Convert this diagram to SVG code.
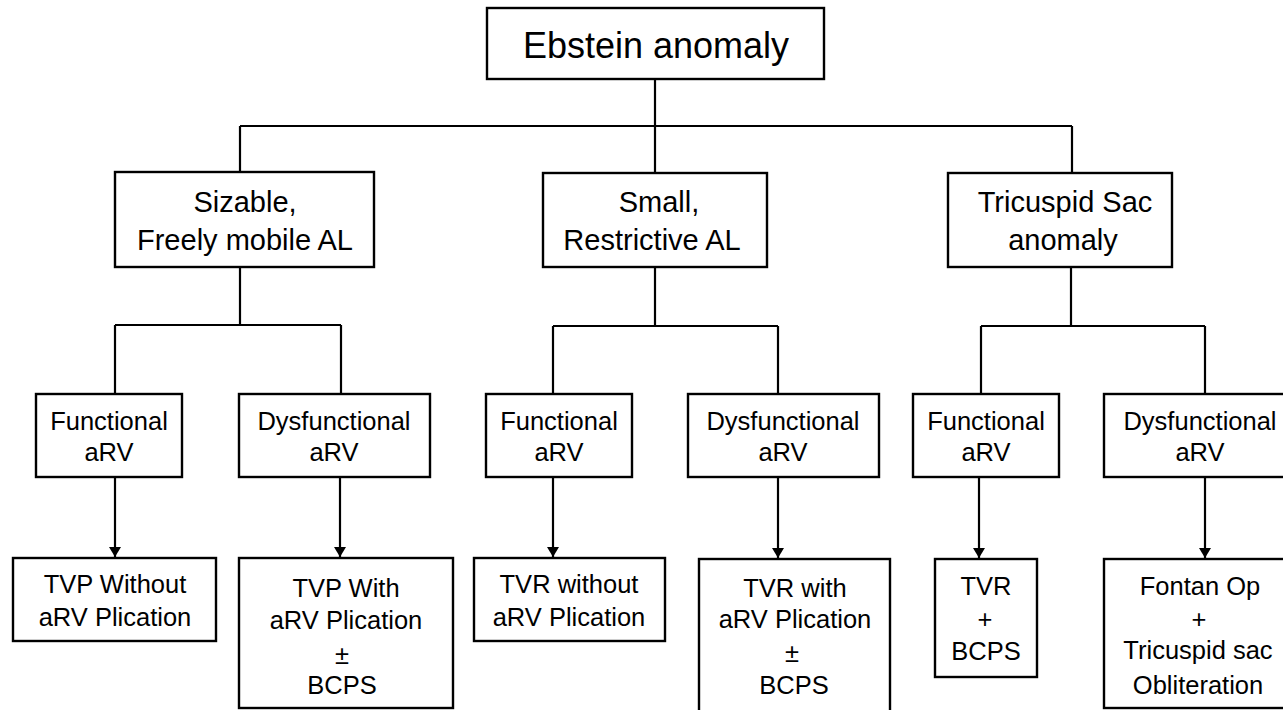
<svg xmlns="http://www.w3.org/2000/svg" width="1283" height="710" viewBox="0 0 1283 710">
<defs>
<marker id="ah" viewBox="0 0 10 12" refX="10" refY="6" markerWidth="12" markerHeight="12" markerUnits="userSpaceOnUse" orient="auto">
<path d="M0,0 L10,6 L0,12 Z" fill="#000"/>
</marker>
<style>
.box{fill:#fff;stroke:#000;stroke-width:2.4}
.ln{fill:none;stroke:#000;stroke-width:2.2}
text{font-family:"Liberation Sans",Arial,Helvetica,sans-serif;fill:#000;text-anchor:middle}
.t1{font-size:36px}
.t2{font-size:29px}
.t3{font-size:25.5px}
.t4{font-size:25.5px}
</style>
</defs>
<rect width="1283" height="710" fill="#fff"/>
<g id="connectors">
<path class="ln" d="M655,79 V126 M240,126 H1072 M240,126 V172 M655,126 V172 M1072,126 V172"/>
<path class="ln" d="M240,267 V325 M115,325 H341 M115,325 V394 M341,325 V394"/>
<path class="ln" d="M655,267 V326 M553,326 H778 M553,326 V394 M778,326 V394"/>
<path class="ln" d="M1071,267 V326 M981,326 H1205 M981,326 V394 M1205,326 V394"/>
<path class="ln" d="M115,477 V557" marker-end="url(#ah)"/>
<path class="ln" d="M340,477 V557" marker-end="url(#ah)"/>
<path class="ln" d="M553,477 V557" marker-end="url(#ah)"/>
<path class="ln" d="M778,477 V558" marker-end="url(#ah)"/>
<path class="ln" d="M979,477 V558" marker-end="url(#ah)"/>
<path class="ln" d="M1205,477 V558" marker-end="url(#ah)"/>
</g>
<g id="n-ebstein"><rect class="box" x="487" y="8" width="337" height="71"/><text class="t1" x="656" y="58">Ebstein anomaly</text></g>
<g id="n-sizable"><rect class="box" x="115" y="172" width="259" height="95"/><text class="t2" x="245" y="212">Sizable,</text><text class="t2" x="245" y="250">Freely mobile AL</text></g>
<g id="n-small"><rect class="box" x="543" y="173" width="224" height="94"/><text class="t2" x="659" y="212">Small,</text><text class="t2" x="652" y="250">Restrictive AL</text></g>
<g id="n-sac"><rect class="box" x="948" y="173" width="224" height="94"/><text class="t2" x="1065" y="212">Tricuspid Sac</text><text class="t2" x="1063" y="250">anomaly</text></g>
<g id="n-f1"><rect class="box" x="36" y="394" width="146" height="83"/><text class="t3" x="109" y="430">Functional</text><text class="t3" x="109" y="461">aRV</text></g>
<g id="n-d1"><rect class="box" x="239" y="394" width="191" height="83"/><text class="t3" x="334" y="430">Dysfunctional</text><text class="t3" x="334" y="461">aRV</text></g>
<g id="n-f2"><rect class="box" x="486" y="394" width="146" height="83"/><text class="t3" x="559" y="430">Functional</text><text class="t3" x="559" y="461">aRV</text></g>
<g id="n-d2"><rect class="box" x="688" y="394" width="191" height="83"/><text class="t3" x="783" y="430">Dysfunctional</text><text class="t3" x="783" y="461">aRV</text></g>
<g id="n-f3"><rect class="box" x="913" y="394" width="146" height="83"/><text class="t3" x="986" y="430">Functional</text><text class="t3" x="986" y="461">aRV</text></g>
<g id="n-d3"><rect class="box" x="1104" y="394" width="200" height="83"/><text class="t3" x="1200" y="430">Dysfunctional</text><text class="t3" x="1200" y="461">aRV</text></g>
<g id="n-tvp1"><rect class="box" x="13" y="558" width="203" height="83"/><text class="t4" x="115" y="593">TVP Without</text><text class="t4" x="115" y="626">aRV Plication</text></g>
<g id="n-tvp2"><rect class="box" x="239" y="558" width="214" height="150"/><text class="t4" x="346" y="597">TVP With</text><text class="t4" x="346" y="629">aRV Plication</text><text class="t4" x="342" y="664">±</text><text class="t4" x="342" y="694">BCPS</text></g>
<g id="n-tvr1"><rect class="box" x="474" y="558" width="191" height="83"/><text class="t4" x="569" y="593">TVR without</text><text class="t4" x="569" y="626">aRV Plication</text></g>
<g id="n-tvr2"><rect class="box" x="699" y="559" width="191" height="155"/><text class="t4" x="795" y="597">TVR with</text><text class="t4" x="795" y="628">aRV Plication</text><text class="t4" x="792" y="662">±</text><text class="t4" x="794" y="694">BCPS</text></g>
<g id="n-tvr3"><rect class="box" x="935" y="559" width="102" height="118"/><text class="t4" x="986" y="595">TVR</text><text class="t4" x="985" y="628">+</text><text class="t4" x="986" y="660">BCPS</text></g>
<g id="n-fontan"><rect class="box" x="1104" y="559" width="200" height="149"/><text class="t4" x="1200" y="595">Fontan Op</text><text class="t4" x="1199" y="628">+</text><text class="t4" x="1198" y="659">Tricuspid sac</text><text class="t4" x="1198" y="694">Obliteration</text></g>
</svg>
